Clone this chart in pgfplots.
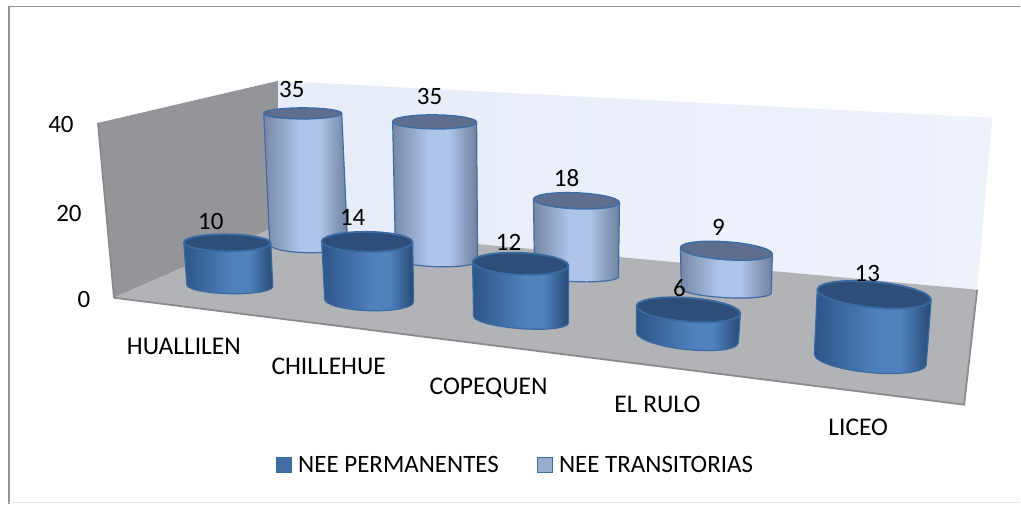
\documentclass[border=0pt]{standalone}
\usepackage{pgfplots}
\pgfplotsset{compat=1.18}
\usepackage{fontspec}
\setmainfont{Carlito}
\definecolor{wallL}{HTML}{939598}
\definecolor{wallEdge}{HTML}{85878A}
\definecolor{floorC}{HTML}{B1B3B6}
\definecolor{floorEdge}{HTML}{8A8B8D}
\definecolor{backA}{HTML}{E6ECF8}
\definecolor{backB}{HTML}{EEF2FB}
\definecolor{bA}{HTML}{2D5688}
\definecolor{bB}{HTML}{4F81BD}
\definecolor{bC}{HTML}{264A74}
\definecolor{bTop}{HTML}{2C4E78}
\definecolor{bRim}{HTML}{3A6AA0}
\definecolor{lA}{HTML}{7787A6}
\definecolor{lB}{HTML}{AEC4E9}
\definecolor{lC}{HTML}{6F7F9E}
\definecolor{lTop}{HTML}{5F6E8E}
\definecolor{lRim}{HTML}{3E6DA5}
\pgfdeclarehorizontalshading{cylblue}{100bp}{color(0bp)=(bA); color(25bp)=(bA); color(52bp)=(bB); color(62bp)=(bB); color(75bp)=(bC); color(100bp)=(bC)}
\pgfdeclarehorizontalshading{cyllight}{100bp}{color(0bp)=(lA); color(25bp)=(lA); color(46bp)=(lB); color(58bp)=(lB); color(75bp)=(lC); color(100bp)=(lC)}
\pgfplotsset{
  blueside/.style={shading=cylblue, draw=bRim, line width=1.2pt, line join=round, mark=none},
  bluetop/.style={fill=bTop, draw=bRim, line width=1.8pt, line join=round, mark=none},
  lightside/.style={shading=cyllight, draw=lRim, line width=1.2pt, line join=round, mark=none},
  lighttop/.style={fill=lTop, draw=lRim, line width=1.5pt, line join=round, mark=none},
  textlabels/.style={draw=none, mark=none, nodes near coords, point meta=explicit symbolic,
    every node near coord/.style={anchor=center, inner sep=0pt, font=\fontsize{#1}{#1}\selectfont, text=black}},
}
% points of an outline: centre x, centre y, radius x, radius y, tilt, angle
\def\addpt#1#2#3#4#5#6{%
  \pgfmathsetmacro\px{#1+#3*cos(#6)}%
  \pgfmathsetmacro\py{#2+#4*sin(#6)+#5*#3*cos(#6)}%
  \xdef\coordlist{\coordlist (\px,\py)}}
\def\addptT#1,#2,#3,#4,#5;#6{\addpt{#1}{#2}{#3}{#4}{#5}{#6}}
% \cyl{side style}{top style}{top: cx,cy,rx,ry,k}{bottom: cx,cy,rx,ry,k}
\newcommand\cyl[4]{%
  \gdef\coordlist{}%
  \addptT #3;{180}%
  \foreach \t in {180,165,...,0} {\addptT #4;{\t}}%
  \addptT #3;{0}%
  \addptT #3;{180}%
  \edef\tmp{\noexpand\addplot[#1] coordinates {\coordlist};}\tmp
  \gdef\coordlist{}%
  \foreach \t in {0,15,...,360} {\addptT #3;{\t}}%
  \edef\tmp{\noexpand\addplot[#2] coordinates {\coordlist};}\tmp
}
\begin{document}
\begin{tikzpicture}
\begin{axis}[
  hide axis, scale only axis, width=1021pt, height=504pt,
  xmin=0, xmax=1021, ymin=0, ymax=504, y dir=reverse, clip=false,
  legend style={at={(axis cs:516,465.5)}, anchor=center, draw=none, fill=none,
    font=\fontsize{25}{25}\selectfont,
    /tikz/every even column/.append style={column sep=36pt},
    /tikz/every odd column/.append style={column sep=4pt}},
  legend columns=2,
  legend image code/.code={\draw[#1] (0pt,-7.5pt) rectangle (15pt,7.5pt);},
  legend entries={NEE PERMANENTES, NEE TRANSITORIAS},
]
\addlegendimage{fill=bB!85!black, draw=bRim, line width=1.2pt}
\addlegendimage{fill=lA!40!lB, draw=lRim, line width=1.2pt}
% page
\addplot[fill=white, draw=none, forget plot] coordinates {(0,0)(1021,0)(1021,504)(0,504)(0,0)};
% frame
\addplot[draw=black!42, line width=1.8pt, forget plot] coordinates {(9,504)(9,6.5)(1021,6.5)};
\addplot[draw=black!9, line width=1.2pt, forget plot] coordinates {(9,503)(1021,503)};
% walls and floor
\addplot[left color=backA, right color=backB, draw=none, forget plot] coordinates {(278,81)(993,118)(978,290)(278,226)(278,81)};
\addplot[fill=wallL, draw=none, forget plot] coordinates {(98,123)(278,81)(278,226)(114,298)(98,123)};
\addplot[fill=floorC, draw=none, forget plot] coordinates {(114,298)(278,226)(978,290)(965,405)(114,298)};
\addplot[draw=wallEdge, line width=1.6pt, forget plot] coordinates {(98,123)(114,298)};
\addplot[draw=floorEdge, line width=1.8pt, forget plot] coordinates {(114,298)(965,405)(978,290)};
% rear row: NEE TRANSITORIAS
\cyl{lightside,forget plot}{lighttop,forget plot}{303,113.5,39,5.5,0}{309,245,39,8,0.01}
\cyl{lightside,forget plot}{lighttop,forget plot}{435,122,42,7,0.01}{437,260,41,7,0.03}
\cyl{lightside,forget plot}{lighttop,forget plot}{577,201,43,8,0.04}{577,276,42,6,0.03}
\cyl{lightside,forget plot}{lighttop,forget plot}{727,251,46,9,0.07}{727,291,45,7,0.05}
% front row: NEE PERMANENTES
\cyl{blueside,forget plot}{bluetop,forget plot}{227.5,243,43.5,8.5,0.01}{230,286,43,8,0.02}
\cyl{blueside,forget plot}{bluetop,forget plot}{367.5,242,45.5,10,0.01}{369.5,301,44.5,10,0.03}
\cyl{blueside,forget plot}{bluetop,forget plot}{521,264,48,11,0.04}{521.5,320,47.5,9,0.07}
\cyl{blueside,forget plot}{bluetop,forget plot}{689,310,52,12,0.07}{688,338,51,12,0.1}
\cyl{blueside,forget plot}{bluetop,forget plot}{875,295,57,13,0.09}{871,360,56,13,0.09}
% values
\addplot[textlabels=25, forget plot] coordinates {
  (211,222)[10] (292,90)[35] (353,218)[14] (430,97)[35] (509,243)[12]
  (567,178)[18] (719,228)[9] (680,288)[6] (868,274)[13]};
% value axis
\addplot[textlabels=25, forget plot] coordinates {(61,125)[40] (69,214)[20] (84,300)[0]};
% categories
\addplot[textlabels=25.5, forget plot] coordinates {
  (184,347)[HUALLILEN] (329,367)[CHILLEHUE] (489,388)[COPEQUEN]
  (658,405)[EL RULO] (859,428)[LICEO]};
\end{axis}
\end{tikzpicture}
\end{document}
